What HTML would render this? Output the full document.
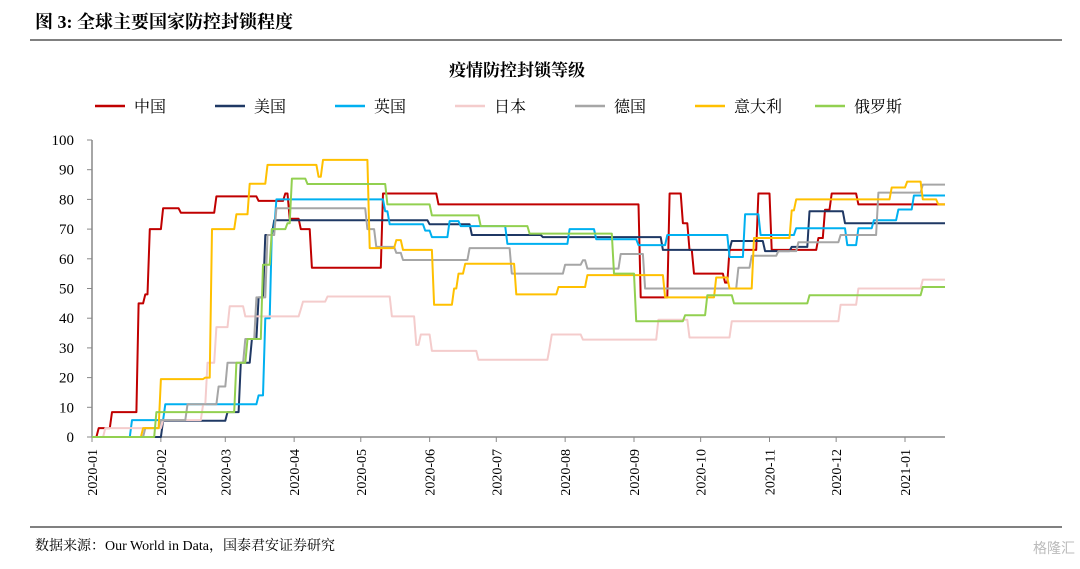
<!DOCTYPE html>
<html><head><meta charset="utf-8"><style>
body{margin:0;background:#fff;width:1080px;height:564px;overflow:hidden;font-family:"Liberation Serif","Noto Serif CJK SC",serif}
</style></head><body>
<svg id="c" width="1080" height="564" xmlns="http://www.w3.org/2000/svg">
<text x="35" y="28" font-size="18" font-weight="bold" fill="#000" font-family="Liberation Serif, Noto Serif CJK SC, serif">图 3:  全球主要国家防控封锁程度</text>
<line x1="30" y1="40" x2="1062" y2="40" stroke="#000" stroke-width="1"/>
<text x="517" y="76" font-size="17" font-weight="bold" text-anchor="middle" font-family="Noto Serif CJK SC, serif">疫情防控封锁等级</text>
<line x1="30" y1="527" x2="1062" y2="527" stroke="#000" stroke-width="1"/>
<text x="35" y="550" font-size="14" font-family="Liberation Serif, Noto Serif CJK SC, serif">数据来源：Our World in Data，国泰君安证券研究</text>
<text x="1075" y="553" font-size="14" fill="#bbb" text-anchor="end" font-family="Noto Sans CJK SC, sans-serif">格隆汇</text>
<g id="g"></g>
</svg>
<script>
const names=["中国","美国","英国","日本","德国","意大利","俄罗斯"];
const colors=["#c00000","#1f3864","#00b0f0","#f4cccc","#a6a6a6","#ffc000","#92d050"];
const yTicks=[0,10,20,30,40,50,60,70,80,90,100];
const xLabels=["2020-01","2020-02","2020-03","2020-04","2020-05","2020-06","2020-07","2020-08","2020-09","2020-10","2020-11","2020-12","2021-01"];
const xTickDays=[0,31,60,91,121,152,182,213,244,274,305,335,366];
const endDay=384;
const china=[[0,0],[2,3],[8,8.4],[20,45],[23,48],[25,70],[31,77],[39,75.5],[55,81],[74,79.5],[86,82],[88,73.5],[93,70],[98,57],[130,82],[155,78.3],[246,47],[259,82],[265,72],[268,63],[270,55],[284,52],[286,63],[299,82],[305,63],[326,67],[329,76.5],[332,82],[344,78.3]];
const usa=[[0,0],[31,5.5],[60,8.4],[66,25],[71,33],[74,47],[77,68],[81,73],[151,71.6],[170,68],[202,67.3],[256,63],[287,66],[302,62.6],[314,64],[322,76],[338,72]];
const uk=[[0,0],[17,5.7],[32,11],[71,11],[74,14],[77,40],[80,70],[82,80],[131,76],[133,71.6],[149,69.5],[152,67.3],[160,72.7],[165,71],[186,65],[214,70],[226,66.6],[245,64.6],[258,68],[286,60.6],[293,75],[300,68],[316,70.3],[339,64.6],[344,70.3],[351,73],[362,76.6],[369,81.3]];
const japan=[[0,0],[5,3],[31,5.7],[49,11],[51,25],[55,37],[61,44],[68,40.6],[93,43],[94,45.6],[105,47.3],[134,40.6],[145,31],[147,34.5],[152,29],[173,26],[205,30],[206,34.5],[220,32.8],[254,39.5],[268,33.5],[287,39],[336,44.5],[344,50],[373,53]];
const germany=[[0,0],[23,3],[30,5.7],[42,11],[56,17],[60,25],[68,33],[73,47],[78,68],[82,77],[123,70],[127,64],[136,62],[139,59.6],[169,63.6],[188,55],[212,58],[220,59.5],[222,56.7],[237,61.6],[248,50],[290,57],[296,61],[308,62.6],[317,65.6],[336,68],[353,82.3],[373,85]];
const italy=[[0,0],[22,3],[30,19.5],[50,20],[53,70],[64,75],[70,85.3],[78,91.6],[101,87.6],[103,93.3],[124,63.6],[136,66.3],[139,63],[153,44.5],[162,50],[164,55],[167,58.3],[190,48],[209,50.5],[222,54.5],[257,47],[280,53.7],[286,50],[297,67],[314,76.3],[316,80],[359,84],[366,86],[373,80],[380,78.3]];
const russia=[[0,0],[28,8.4],[64,25],[69,33],[76,58],[80,70],[87,72],[89,87],[96,85.2],[132,78.3],[152,74.6],[174,71],[196,68.5],[234,55],[244,39],[266,41],[276,47.7],[288,45],[322,47.7],[373,50.5]];
const series=[china,usa,uk,japan,germany,italy,russia];
const seriesKeys=["china","usa","uk","japan","germany","italy","russia"];
const X0=92,X1=945,Y0=437,Y1=140;
const xs=d=>X0+(X1-X0)*d/endDay;
const ys=v=>Y0-(Y0-Y1)*v/100;
const NS="http://www.w3.org/2000/svg";
const g=document.getElementById('g');
function mk(t,a){const e=document.createElementNS(NS,t);for(const k in a)e.setAttribute(k,a[k]);g.appendChild(e);return e;}
let ax=mk('line',{x1:X0,y1:Y1,x2:X0,y2:Y0,stroke:'#888','stroke-width':1.5});


yTicks.forEach(v=>{
 const t=mk('line',{x1:X0-5,y1:ys(v),x2:X0,y2:ys(v),stroke:'#888'});
 
 
 const l=mk('text',{x:X0-18,y:ys(v)+5,'font-size':15,'text-anchor':'end','font-family':'Liberation Serif, serif'});
 l.textContent=v;
 
 
});
let xa=mk('line',{x1:X0,y1:Y0,x2:X1,y2:Y0,stroke:'#888','stroke-width':1.5});


xTickDays.forEach((d,i)=>{
 const t=mk('line',{x1:xs(d),y1:Y0,x2:xs(d),y2:Y0+5,stroke:'#888'});
 
 
 const x=xs(d)+5,y=Y0+12;
 const l=mk('text',{x:x,y:y,'font-size':14,'text-anchor':'end',transform:`rotate(-90 ${x} ${y})`,'font-family':'Liberation Serif, serif'});
 l.textContent=xLabels[i];
 
 
});
series.forEach((s,i)=>{
 let pts=[];
 s.forEach((p,j)=>{
  if(j>0){pts.push([xs(p[0]),ys(s[j-1][1])]);}
  pts.push([xs(p[0]+ (j>0?1:0)),ys(p[1])]);
 });
 pts.push([xs(endDay),ys(s[s.length-1][1])]);
 const pl=mk('polyline',{points:pts.map(p=>p[0].toFixed(1)+','+p[1].toFixed(1)).join(' '),fill:'none',stroke:colors[i],'stroke-width':2,'stroke-linejoin':'round'});
 
 
});
const legX=[95,215,335,455,575,695,815];
names.forEach((n,i)=>{
 const l=mk('line',{x1:legX[i],y1:106,x2:legX[i]+30,y2:106,stroke:colors[i],'stroke-width':2.5});
 
 
 const t=mk('text',{x:legX[i]+39,y:112,'font-size':16,'font-family':'Noto Serif CJK SC, serif'});
 t.textContent=n;
 
 
});
</script>
</body></html>
